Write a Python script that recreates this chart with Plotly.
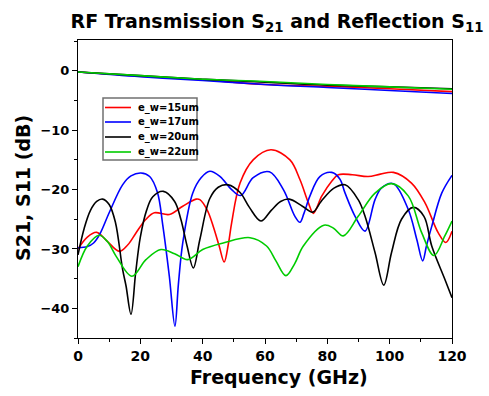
import plotly.graph_objects as go

# S11 data (frequency GHz, dB)
x_15 = [0, 3, 6, 9, 13.3, 16, 18.6, 21.8, 24.5, 29.3, 33.6, 37.9, 39.1, 41.5, 43.4, 45.3, 46.9, 48.3, 49.3, 52, 56.2, 61.9, 68, 71.2, 73.9, 75.5, 78.2, 81.4, 83.5, 88, 93.1, 97, 101.2, 107, 111.3, 115.6, 118, 120]
s11_15 = [-30, -28, -27.2, -28.5, -30.4, -29.3, -27.3, -25, -23.9, -24.2, -22.8, -21.6, -21.7, -23.5, -26.2, -29.5, -32.2, -29, -25.6, -18.9, -15, -13.3, -15, -18.3, -22.2, -24, -21.1, -18.6, -17.5, -17.5, -17.8, -17.4, -17.1, -18.9, -22.2, -27.3, -28.9, -27]

x_17 = [0, 3, 5, 7, 10, 14.3, 17, 20.2, 23, 25.5, 27.2, 29.3, 31.1, 32.2, 33.6, 36.8, 39.5, 42.3, 45.6, 49.3, 52.2, 56.2, 61.4, 65.9, 69.6, 71.2, 72.5, 74.4, 77.6, 81.4, 84, 85.7, 88.9, 92.1, 95.3, 97.4, 101.2, 106, 108.7, 110.6, 111.8, 113.5, 116.7, 120]
s11_17 = [-29.8, -29.6, -29, -27.5, -23.9, -19.2, -17.7, -17.2, -17.8, -20.5, -26, -34.6, -43, -36, -29, -20.6, -18, -16.9, -17.8, -20, -21, -18, -17, -20, -24.5, -25.5, -24, -21.1, -17.8, -17.1, -18.2, -20.6, -24.5, -27, -21.7, -19.7, -19, -23.4, -28.4, -32, -29.5, -26.2, -20.6, -17.6]

x_20 = [0, 2, 4, 6, 7.9, 10, 12, 14.3, 15.4, 17, 18.5, 20, 22, 24, 27.4, 31, 33, 35, 37, 39.1, 42.3, 45, 48.2, 52, 55, 58.7, 62, 65, 67.8, 72, 75.3, 78, 82, 85.7, 89.9, 92.1, 95.3, 98.1, 100.6, 103.8, 107.6, 111, 113.5, 117.7, 120]
s11_20 = [-31, -26.5, -23.5, -22, -21.6, -22.5, -25.5, -33.4, -36.2, -41, -34, -28, -23.5, -21.2, -20.3, -22, -25, -29.5, -33.2, -28.4, -21.5, -19.6, -19.2, -20.5, -23, -25.3, -23.5, -22, -21.6, -22.8, -23.8, -22, -19.8, -19.2, -21.7, -24.5, -30.6, -36.1, -30.6, -25, -23, -24.5, -29.5, -35.1, -38.2]

x_22 = [0, 3, 6.8, 9.5, 12.2, 17.3, 21.8, 26.6, 31, 35.2, 40, 46.6, 55.2, 60.5, 63.5, 66.7, 69.5, 72.3, 78.9, 82, 85.1, 89.9, 95.3, 100.6, 106, 110.3, 114.2, 117.7, 120]
s11_22 = [-33, -29.5, -27.7, -28.8, -31.2, -34.6, -31.8, -30.1, -30.8, -31.8, -30.1, -29, -28.1, -29.5, -32, -34.5, -32.5, -29.5, -26, -26.5, -27.8, -24.5, -20.6, -19, -21.1, -27.3, -31.1, -27.8, -25.3]

# S21 data
x_s21 = [0, 20, 40, 60, 80, 100, 120]
s21_15 = [-0.2, -0.9, -1.5, -2.3, -2.6, -3.0, -3.5]
s21_17 = [-0.2, -1.0, -1.6, -2.3, -2.8, -3.3, -3.8]
s21_20 = [-0.2, -0.8, -1.4, -1.9, -2.4, -2.7, -3.0]
s21_22 = [-0.2, -0.8, -1.4, -1.8, -2.3, -2.7, -3.1]

names = ["e_w=15um", "e_w=17um", "e_w=20um", "e_w=22um"]
colors = ["#ff0000", "#0000ff", "#000000", "#00cc00"]
s11_x = [x_15, x_17, x_20, x_22]
s11_y = [s11_15, s11_17, s11_20, s11_22]
s21_y = [s21_15, s21_17, s21_20, s21_22]

FONT = "DejaVu Sans, Liberation Sans, Arial, sans-serif"
W, H = 489, 396
ML, MR, MT, MB = 78, 37, 40, 58
pw, ph = W - ML - MR, H - MT - MB


def px_to_paper(px, py):
    return (px - ML) / pw, (H - MB - py) / ph


fig = go.Figure()
for i in range(4):
    fig.add_trace(go.Scatter(x=x_s21, y=s21_y[i], mode="lines", name=names[i],
                             showlegend=False,
                             line=dict(color=colors[i], width=1.6, shape="spline")))
for i in range(4):
    fig.add_trace(go.Scatter(x=s11_x[i], y=s11_y[i], mode="lines", name=names[i],
                             showlegend=False,
                             line=dict(color=colors[i], width=1.6, shape="spline", smoothing=1.0)))

axis_common = dict(showline=True, linecolor="black", linewidth=1, mirror=True,
                   ticks="outside", ticklen=5, tickwidth=1, tickcolor="black",
                   showgrid=False, zeroline=False)

fig.update_xaxes(range=[0, 120], dtick=20, tick0=0,
                 minor=dict(dtick=10, ticks="outside", ticklen=3, tickcolor="black"),
                 tickfont=dict(family=FONT, size=14, color="black", weight="bold"),
                 ticklabelstandoff=0,
                 **axis_common)
fig.update_yaxes(range=[-45, 5.2], dtick=10, tick0=0,
                 minor=dict(dtick=5, ticks="outside", ticklen=3, tickcolor="black"),
                 tickfont=dict(family=FONT, size=13, color="black", weight="bold"),
                 **axis_common)

fig.update_layout(
    width=W, height=H,
    margin=dict(l=ML, r=MR, t=MT, b=MB, autoexpand=False),
    paper_bgcolor="white", plot_bgcolor="white",
    title=dict(text="RF Transmission S<sub>21</sub> and Reflection S<sub>11</sub>",
               x=277 / W, xanchor="center", y=1 - 21 / H, yanchor="middle",
               font=dict(family=FONT, size=19, color="black", weight="bold")),
    showlegend=False,
)

# Axis titles
ax, ay = px_to_paper(279, 377)
fig.add_annotation(text="Frequency (GHz)", x=ax, y=ay, xref="paper", yref="paper",
                   xanchor="center", yanchor="middle", showarrow=False,
                   font=dict(family=FONT, size=19, color="black", weight="bold"))
bx, by = px_to_paper(23, 188)
fig.add_annotation(text="S21, S11 (dB)", x=bx, y=by, xref="paper", yref="paper",
                   xanchor="center", yanchor="middle", showarrow=False, textangle=-90,
                   font=dict(family=FONT, size=19, color="black", weight="bold"))

# Compact legend box (like the reference)
x0, y0 = px_to_paper(103, 98)
x1, y1 = px_to_paper(197, 160)
fig.add_shape(type="rect", xref="paper", yref="paper", x0=x0, y0=y1, x1=x1, y1=y0,
              line=dict(color="#707070", width=1.5), fillcolor="white", layer="above")
row_y = [107.5, 122, 137, 152]
for i in range(4):
    lx0, ly = px_to_paper(105, row_y[i])
    lx1, _ = px_to_paper(131, row_y[i])
    fig.add_shape(type="line", xref="paper", yref="paper", x0=lx0, x1=lx1, y0=ly, y1=ly,
                  line=dict(color=colors[i], width=1.6), layer="above")
    tx, _ = px_to_paper(136, row_y[i])
    fig.add_annotation(text=names[i], x=tx, y=ly, xref="paper", yref="paper",
                       xanchor="left", yanchor="middle", showarrow=False,
                       font=dict(family=FONT, size=10, color="black", weight="bold"))

fig.write_html("out.html", config={"displayModeBar": False},
               post_script="document.body.style.margin='0';document.body.style.padding='0';")
